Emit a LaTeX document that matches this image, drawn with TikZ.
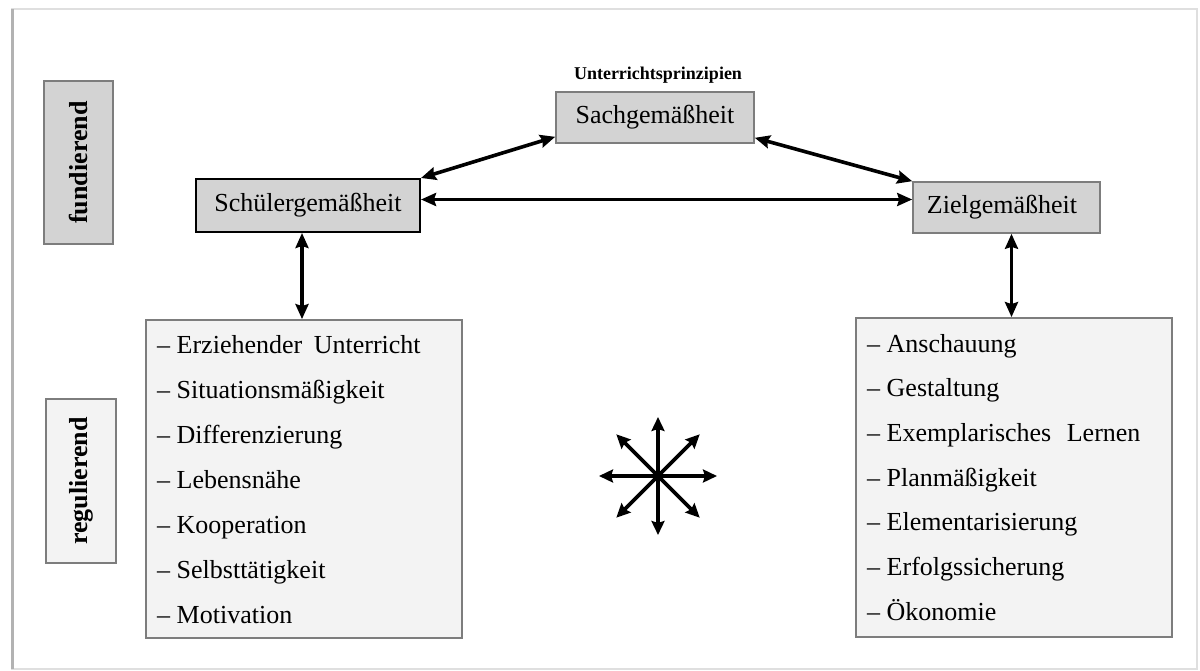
\documentclass[tikz,border=0pt]{standalone}
\usepackage{fontspec}
\setmainfont{Liberation Serif}
\usetikzlibrary{arrows.meta,calc}

\definecolor{boxgray}{RGB}{211,211,211}
\definecolor{lightfill}{RGB}{243,243,243}
\definecolor{edgegray}{RGB}{125,125,125}

\begin{document}
\begin{tikzpicture}[x=1pt,y=-1pt,
  every node/.style={inner sep=0pt},
  link/.style={line width=3.6pt,{Stealth[length=15pt,width=13pt,inset=2pt]}-{Stealth[length=15pt,width=13pt,inset=2pt]}},
  ray/.style={line width=3.6pt,-{Stealth[length=14pt,width=13pt,inset=2pt]}},
  darkbox/.style={draw=edgegray,line width=1.6pt,fill=boxgray,font=\fontsize{26}{31}\selectfont},
  sidebox/.style={draw=edgegray,line width=1.6pt},
  sidetext/.style={rotate=90,font=\fontsize{26}{31}\selectfont\bfseries},
  listbox/.style={draw=edgegray,line width=1.8pt,fill=lightfill,minimum width=316pt},
  item/.style={anchor=base west,font=\fontsize{26}{31}\selectfont}
]
\useasboundingbox (0,0) rectangle (1200,671);
\fill[white] (0,0) rectangle (1200,671);

% page frame
\draw[gray!25,line width=1.5pt] (12,9) rectangle (1197,669);
\draw[gray!60,line width=3pt] (12,9) -- (12,669);

% heading
\node[font=\fontsize{18}{22}\selectfont\bfseries] (title) at (658,75) {Unterrichtsprinzipien};

% side labels
\node[sidebox,fill=boxgray,minimum width=69pt,minimum height=163pt] (fund) at (78.5,162.5) {};
\node[sidetext] (fundtxt) at (fund.center) {fundierend};
\node[sidebox,fill=lightfill,minimum width=70pt,minimum height=164pt] (reg) at (81,481) {};
\node[sidetext] (regtxt) at (reg.center) {regulierend};

% the three fundamental principles
\node[darkbox,minimum width=198pt,minimum height=51pt] (sach) at (655,117.5) {Sachgemäßheit};
\node[darkbox,draw=black,line width=2pt,minimum width=224pt,minimum height=53pt] (schueler) at (308,205.5) {Schülergemäßheit};
\node[darkbox,minimum width=187pt,minimum height=51pt] (ziel) at (1006.5,207.5) {\hspace*{-9pt}Zielgemäßheit};

% regulating principles
\node[listbox,minimum height=318pt] (llist) at (304,479) {};
\node[listbox,minimum height=319pt] (rlist) at (1014,477.5) {};

\node[item] (l1) at (157,353) {– Erziehender\hspace{5pt} Unterricht};
\node[item] (l2) at (157,398) {– Situationsmäßigkeit};
\node[item] (l3) at (157,443) {– Differenzierung};
\node[item] (l4) at (157,488) {– Lebensnähe};
\node[item] (l5) at (157,533) {– Kooperation};
\node[item] (l6) at (157,578) {– Selbsttätigkeit};
\node[item] (l7) at (157,623) {– Motivation};

\node[item] (r1) at (867,352) {– Anschauung};
\node[item] (r2) at (867,396) {– Gestaltung};
\node[item] (r3) at (867,441) {– Exemplarisches\hspace{9pt} Lernen};
\node[item] (r4) at (867,486) {– Planmäßigkeit};
\node[item] (r5) at (867,530) {– Elementarisierung};
\node[item] (r6) at (867,575) {– Erfolgssicherung};
\node[item] (r7) at (867,620) {– Ökonomie};

% connections
\draw[link] ([yshift=7pt]sach.south west) -- (schueler.north east);
\draw[link] ([yshift=6pt]sach.south east) -- (ziel.north west);
\draw[link] ([yshift=6pt]schueler.east) -- ([yshift=6pt]schueler.east -| ziel.west);
\draw[link] ([xshift=-6pt]schueler.south) -- ([xshift=-6pt]schueler.south |- llist.north);
\draw[link] ([xshift=5pt]ziel.south) -- ([xshift=5pt]ziel.south |- rlist.north);

% interplay star
\coordinate (hub) at (658,476);
\foreach \a in {0,45,...,315}
  \draw[ray] (hub) -- ++(\a:59);
\end{tikzpicture}
\end{document}
